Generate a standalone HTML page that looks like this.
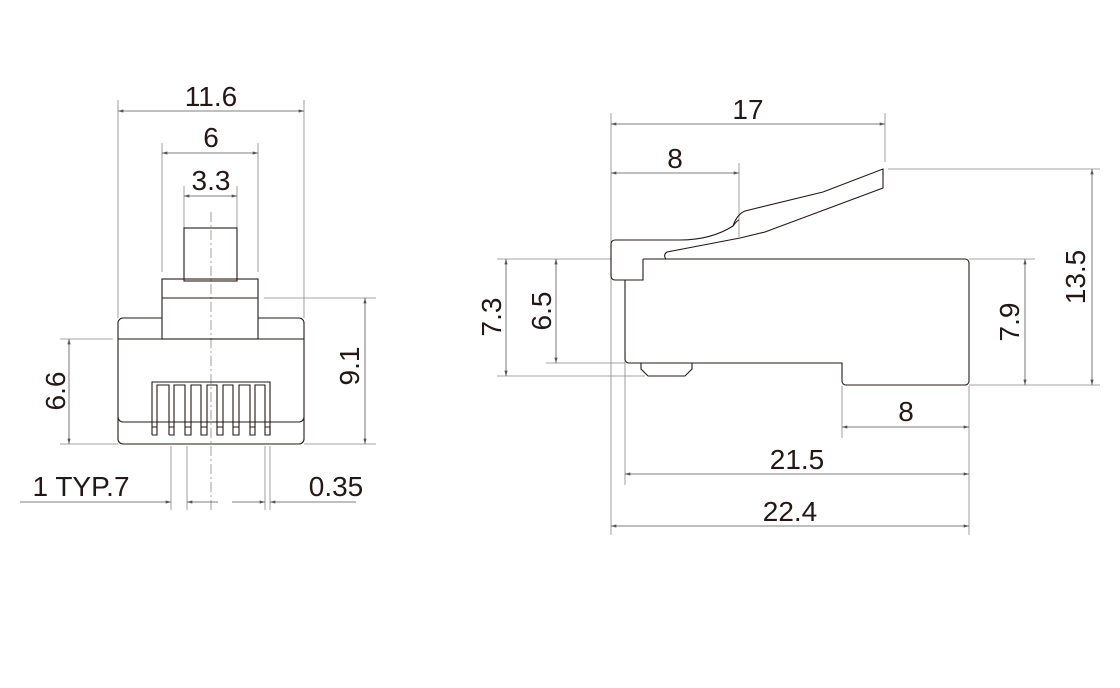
<!DOCTYPE html>
<html><head><meta charset="utf-8"><style>
html,body{margin:0;padding:0;background:#fff;width:1120px;height:688px;overflow:hidden}
svg text{font-family:"Liberation Sans",Arial,sans-serif;font-size:28px;fill:#231815}
</style></head><body>
<svg width="1120" height="688" viewBox="0 0 1120 688" xmlns="http://www.w3.org/2000/svg">
<defs>
<marker id="a" viewBox="0 0 10 6" refX="10" refY="3" markerWidth="8" markerHeight="4" orient="auto-start-reverse"><path d="M0,0L10,3L0,6z" fill="#555"/></marker>
</defs>
<g stroke="#888" stroke-width="0.8" fill="none">
<line x1="118" y1="100" x2="118" y2="318"/><line x1="304" y1="100" x2="304" y2="318"/>
<line x1="162" y1="143" x2="162" y2="272"/><line x1="258" y1="143" x2="258" y2="272"/>
<line x1="184" y1="186" x2="184" y2="228"/><line x1="237" y1="186" x2="237" y2="228"/>
<line x1="264" y1="298" x2="376" y2="298"/><line x1="304" y1="444" x2="376" y2="444"/>
<line x1="60" y1="339" x2="113" y2="339"/><line x1="60" y1="444" x2="118" y2="444"/>
<line x1="171" y1="446" x2="171" y2="510"/><line x1="187" y1="446" x2="187" y2="510"/>
<line x1="265" y1="446" x2="265" y2="510"/><line x1="270" y1="446" x2="270" y2="510"/>
<line x1="211" y1="212" x2="211" y2="510" stroke-dasharray="10,3,2,3"/>
<line x1="611" y1="113" x2="611" y2="535"/><line x1="625" y1="282" x2="625" y2="485"/>
<line x1="885" y1="113" x2="885" y2="162"/><line x1="739" y1="163" x2="739" y2="237"/>
<line x1="888" y1="169" x2="1100" y2="169"/><line x1="969" y1="385" x2="1100" y2="385"/>
<line x1="969" y1="259" x2="1035" y2="259"/>
<line x1="497" y1="259" x2="611" y2="259"/><line x1="497" y1="376" x2="645" y2="376"/>
<line x1="546" y1="363" x2="625" y2="363"/>
<line x1="842" y1="386" x2="842" y2="438"/><line x1="969" y1="386" x2="969" y2="535"/>
</g>
<g stroke="#555" stroke-width="0.8" fill="none">
<line x1="118" y1="111" x2="304" y2="111" marker-start="url(#a)" marker-end="url(#a)"/>
<line x1="162" y1="153" x2="258" y2="153" marker-start="url(#a)" marker-end="url(#a)"/>
<line x1="184" y1="196" x2="237" y2="196" marker-start="url(#a)" marker-end="url(#a)"/>
<line x1="365" y1="298" x2="365" y2="444" marker-start="url(#a)" marker-end="url(#a)"/>
<line x1="69" y1="339" x2="69" y2="444" marker-start="url(#a)" marker-end="url(#a)"/>
<line x1="20" y1="502" x2="171" y2="502" marker-end="url(#a)"/>
<line x1="187" y1="502" x2="218" y2="502" marker-start="url(#a)"/>
<line x1="232" y1="502" x2="265" y2="502" marker-end="url(#a)"/>
<line x1="270" y1="502" x2="356" y2="502" marker-start="url(#a)"/>
<line x1="611" y1="124" x2="885" y2="124" marker-start="url(#a)" marker-end="url(#a)"/>
<line x1="611" y1="173" x2="739" y2="173" marker-start="url(#a)" marker-end="url(#a)"/>
<line x1="1092" y1="169" x2="1092" y2="385" marker-start="url(#a)" marker-end="url(#a)"/>
<line x1="1025" y1="259" x2="1025" y2="385" marker-start="url(#a)" marker-end="url(#a)"/>
<line x1="506" y1="259" x2="506" y2="376" marker-start="url(#a)" marker-end="url(#a)"/>
<line x1="556" y1="259" x2="556" y2="363" marker-start="url(#a)" marker-end="url(#a)"/>
<line x1="842" y1="427" x2="969" y2="427" marker-start="url(#a)" marker-end="url(#a)"/>
<line x1="625" y1="474" x2="969" y2="474" marker-start="url(#a)" marker-end="url(#a)"/>
<line x1="611" y1="526" x2="969" y2="526" marker-start="url(#a)" marker-end="url(#a)"/>
</g>
<g stroke="#231815" stroke-width="1.1" fill="none">
<rect x="184" y="228" width="53" height="53"/>
<rect x="162" y="279" width="96" height="60"/>
<line x1="162" y1="298" x2="258" y2="298"/>
<path d="M162,318H123a5,5 0 0 0-5,5V439a5,5 0 0 0 5,5H299a5,5 0 0 0 5-5V323a5,5 0 0 0-5-5H258"/>
<line x1="118" y1="339" x2="304" y2="339"/>
<path d="M118,417a5,5 0 0 0 5,5H299a5,5 0 0 0 5-5"/>
<path d="M152,435V382H270V435"/>
<g>
<path d="M152,435h5V427h-5M157,427V385h12V435"/>
<path d="M169,435h5v-8h-5"/>
<path d="M174,427V385h11V435h6v-8h-6"/>
<path d="M191,427V385h10V435h6v-8h-6"/>
<path d="M207,427V385h10V435h6v-8h-6"/>
<path d="M223,427V385h10V435h6v-8h-6"/>
<path d="M239,427V385h11V435h5v-8h-5"/>
<path d="M255,427V385h10V435h5v-8h-5"/>
</g>
<path d="M643,259H965a4,4 0 0 1 4,4V381a4,4 0 0 1-4,4H846a4,4 0 0 1-4-4V363H629a4,4 0 0 1-4-4V280"/>
<path d="M643,259V280H615a4,4 0 0 1-4-4V244a4,4 0 0 1 4-4H680C705,240 722,233 733,226C736,217 740,213 745,211L823,192L883,169V188L765,232L740,238L667,252C664,254 664,257 666,259"/>
<path d="M733,226C736,222 738,220 739,220"/>
<path d="M641,363V369L648,376H685L692,369V363"/>
</g>
<g>
<text x="211" y="106" text-anchor="middle">11.6</text>
<text x="211" y="147" text-anchor="middle">6</text>
<text x="211" y="190" text-anchor="middle">3.3</text>
<text x="81" y="496" text-anchor="middle">1 TYP.7</text>
<text x="336" y="496" text-anchor="middle">0.35</text>
<text transform="translate(65,391) rotate(-90)" text-anchor="middle">6.6</text>
<text transform="translate(359,366) rotate(-90)" text-anchor="middle">9.1</text>
<text x="748" y="119" text-anchor="middle">17</text>
<text x="675" y="168" text-anchor="middle">8</text>
<text x="906" y="421" text-anchor="middle">8</text>
<text x="797" y="469" text-anchor="middle">21.5</text>
<text x="790" y="521" text-anchor="middle">22.4</text>
<text transform="translate(501,317) rotate(-90)" text-anchor="middle">7.3</text>
<text transform="translate(551,311) rotate(-90)" text-anchor="middle">6.5</text>
<text transform="translate(1019,322) rotate(-90)" text-anchor="middle">7.9</text>
<text transform="translate(1085,277) rotate(-90)" text-anchor="middle">13.5</text>
</g>
</svg>
</body></html>
